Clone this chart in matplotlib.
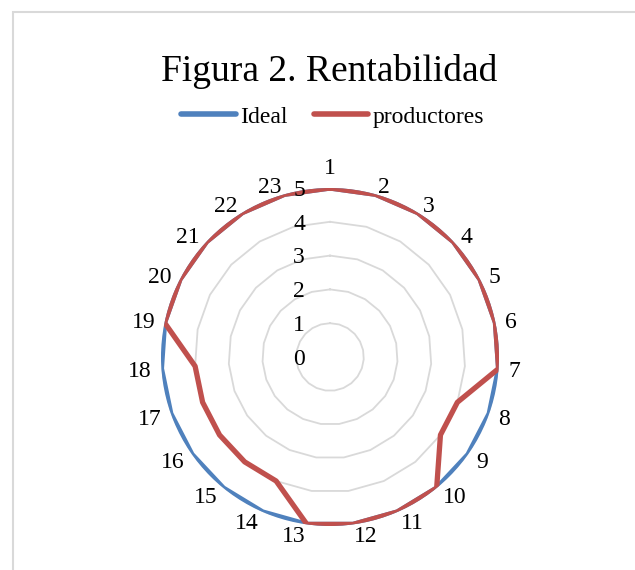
import numpy as np
import matplotlib
matplotlib.use("Agg")
import matplotlib.pyplot as plt
from matplotlib.lines import Line2D
from matplotlib.patches import Rectangle

plt.rcParams["font.family"] = ["Liberation Serif", "DejaVu Serif"]

# data
categories = [str(i) for i in range(1, 24)]
ideal = [5] * 23
productores = [5, 5, 5, 5, 5, 5, 5, 4, 4, 5, 5, 5, 5, 4, 4, 4, 4, 4, 5, 5, 5, 5, 5]
rings = [1, 2, 3, 4, 5]
radial_labels = [0, 1, 2, 3, 4, 5]

blue = "#4F81BD"
red = "#C0504D"
grid_col = "#D9D9D9"

W, H = 635, 570
fig = plt.figure(figsize=(W / 100, H / 100), dpi=100)

# chart area border (runs off the right and bottom edges)
fig.patches.append(Rectangle((13 / W, -0.1), 1.2, 1.1 - 12 / H,
                             transform=fig.transFigure, fill=False,
                             edgecolor=grid_col, linewidth=1.5))

cx, cy, R = 330, 357, 169
ax = fig.add_axes([(cx - R) / W, (H - cy - R) / H, 2 * R / W, 2 * R / H],
                  projection="polar")
ax.set_theta_zero_location("N")
ax.set_theta_direction(-1)
ax.set_ylim(0, 5)
ax.grid(False)
ax.spines["polar"].set_visible(False)
ax.set_xticks([])
ax.set_yticks([])
ax.patch.set_alpha(0)

n = len(categories)
theta = np.arange(n) * 2 * np.pi / n
theta_c = np.append(theta, theta[0])

# polygon gridlines
for r in rings:
    ax.plot(theta_c, [r] * (n + 1), color=grid_col, lw=1.3, zorder=1)

def closed(v):
    return list(v) + [v[0]]

ax.plot(theta_c, closed(ideal), color=blue, lw=3.8, solid_joinstyle="round",
        solid_capstyle="round", zorder=3)
ax.plot(theta_c, closed(productores), color=red, lw=3.8, solid_joinstyle="round",
        solid_capstyle="round", zorder=4)

# category labels around the outside (Excel-style anchoring)
lab_size = 17
digit_h = 0.66 * lab_size * 100 / 72
gap = 9.5
for t, lab in zip(theta, categories):
    s, c = np.sin(t), np.cos(t)
    if abs(s) < 1e-6:
        ha, va, dy = "center", "bottom", 0
    else:
        ha = "left" if s > 0 else "right"
        va, dy = "baseline", -digit_h / 2
    ax.annotate(lab, xy=(t, 5), xytext=(gap * s, gap * c + dy),
                textcoords="offset pixels", ha=ha, va=va,
                fontsize=lab_size, color="black", annotation_clip=False, zorder=5)

# radial value labels, left of the vertical axis
for v in radial_labels:
    ax.annotate(str(v), xy=(0, v), xytext=(-25, -digit_h / 2),
                textcoords="offset pixels", ha="right", va="baseline",
                fontsize=lab_size, color="black", annotation_clip=False, zorder=5)

fig.text(329 / W, 1 - 81 / H, "Figura 2. Rentabilidad", ha="center",
         va="baseline", fontsize=27)

handles = [Line2D([], [], color=blue, lw=4, solid_capstyle="round"),
           Line2D([], [], color=red, lw=4, solid_capstyle="round")]
fig.legend(handles, ["Ideal", "productores"], loc="center",
           bbox_to_anchor=(333 / W, 1 - 117 / H), ncol=2, frameon=False,
           fontsize=17, handlelength=2.3, handletextpad=0.2, columnspacing=1.1)

fig.savefig("out.png", dpi=100)
